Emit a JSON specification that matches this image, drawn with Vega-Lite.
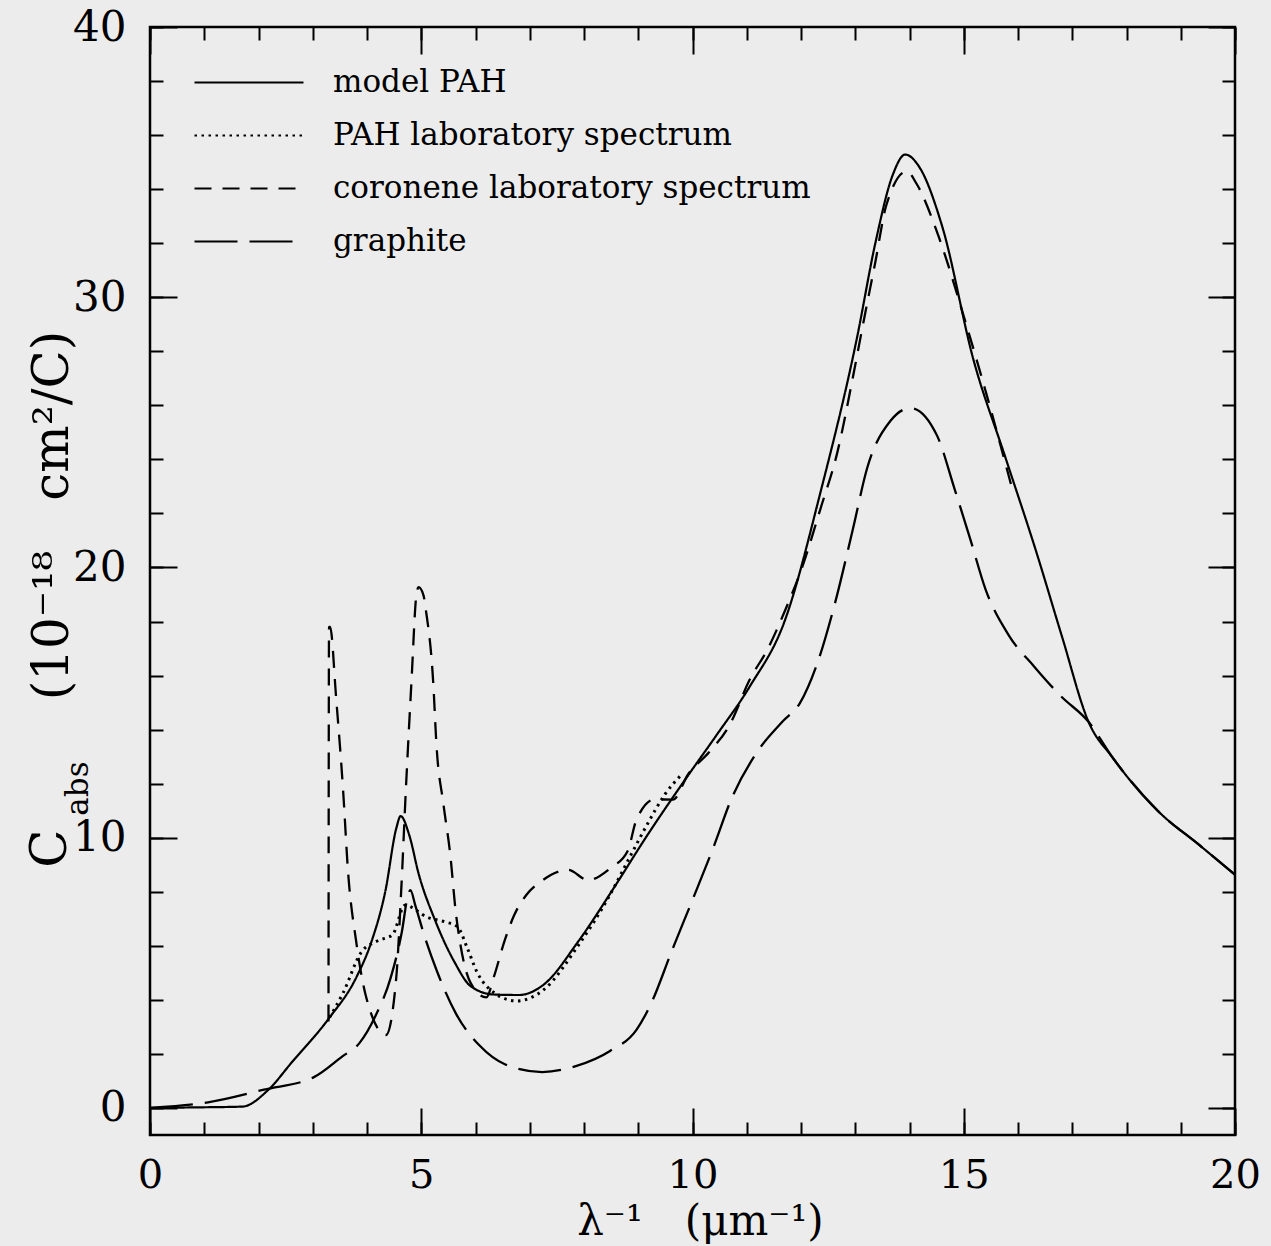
{
  "$schema": "https://vega.github.io/schema/vega-lite/v6.json",
  "width": 1085,
  "height": 1108,
  "autosize": {"type": "none"},
  "padding": {"left": 150, "top": 27, "right": 36, "bottom": 111},
  "background": "#ececec",
  "config": {
    "view": {"stroke": "black", "strokeWidth": 2.5},
    "axis": {"grid": false, "domain": false, "tickColor": "black", "tickWidth": 2, "labelColor": "black", "titleColor": "black", "labelFont": "DejaVu Serif", "titleFont": "DejaVu Serif", "titleFontWeight": "normal", "labelFlush": false, "labelOverlap": false, "labelBound": false},
    "line": {"color": "black", "strokeWidth": 2.2, "interpolate": "monotone"}
  },
  "datasets": {
    "model": [
      {"x": 0, "y": 0, "series": "model PAH"},
      {"x": 0.75, "y": 0.02, "series": "model PAH"},
      {"x": 1.7, "y": 0.05, "series": "model PAH"},
      {"x": 2.18, "y": 0.67, "series": "model PAH"},
      {"x": 2.61, "y": 1.68, "series": "model PAH"},
      {"x": 3.28, "y": 3.27, "series": "model PAH"},
      {"x": 3.81, "y": 4.86, "series": "model PAH"},
      {"x": 4.08, "y": 6.14, "series": "model PAH"},
      {"x": 4.34, "y": 8.04, "series": "model PAH"},
      {"x": 4.54, "y": 10.35, "series": "model PAH"},
      {"x": 4.62, "y": 10.8, "series": "model PAH"},
      {"x": 4.78, "y": 10.09, "series": "model PAH"},
      {"x": 4.95, "y": 8.68, "series": "model PAH"},
      {"x": 5.25, "y": 6.97, "series": "model PAH"},
      {"x": 5.61, "y": 5.41, "series": "model PAH"},
      {"x": 5.91, "y": 4.51, "series": "model PAH"},
      {"x": 6.33, "y": 4.2, "series": "model PAH"},
      {"x": 6.8, "y": 4.18, "series": "model PAH"},
      {"x": 7.26, "y": 4.57, "series": "model PAH"},
      {"x": 7.89, "y": 6.15, "series": "model PAH"},
      {"x": 8.53, "y": 8.08, "series": "model PAH"},
      {"x": 9.16, "y": 10.07, "series": "model PAH"},
      {"x": 9.92, "y": 12.31, "series": "model PAH"},
      {"x": 10.43, "y": 13.76, "series": "model PAH"},
      {"x": 11.06, "y": 15.61, "series": "model PAH"},
      {"x": 11.69, "y": 17.97, "series": "model PAH"},
      {"x": 12.37, "y": 22.87, "series": "model PAH"},
      {"x": 13.03, "y": 28.48, "series": "model PAH"},
      {"x": 13.37, "y": 32.0, "series": "model PAH"},
      {"x": 13.69, "y": 34.52, "series": "model PAH"},
      {"x": 13.92, "y": 35.28, "series": "model PAH"},
      {"x": 14.19, "y": 34.79, "series": "model PAH"},
      {"x": 14.6, "y": 32.64, "series": "model PAH"},
      {"x": 15.18, "y": 27.68, "series": "model PAH"},
      {"x": 15.76, "y": 24.12, "series": "model PAH"},
      {"x": 16.34, "y": 20.56, "series": "model PAH"},
      {"x": 16.81, "y": 17.45, "series": "model PAH"},
      {"x": 17.3, "y": 14.29, "series": "model PAH"},
      {"x": 17.75, "y": 12.95, "series": "model PAH"},
      {"x": 18.6, "y": 10.95, "series": "model PAH"},
      {"x": 19.33, "y": 9.75, "series": "model PAH"},
      {"x": 20, "y": 8.63, "series": "model PAH"}
    ],
    "lab": [
      {"x": 3.31, "y": 3.35, "series": "PAH laboratory spectrum"},
      {"x": 3.56, "y": 4.26, "series": "PAH laboratory spectrum"},
      {"x": 3.89, "y": 5.75, "series": "PAH laboratory spectrum"},
      {"x": 4.19, "y": 6.18, "series": "PAH laboratory spectrum"},
      {"x": 4.47, "y": 6.41, "series": "PAH laboratory spectrum"},
      {"x": 4.7, "y": 7.5, "series": "PAH laboratory spectrum"},
      {"x": 5.12, "y": 7.05, "series": "PAH laboratory spectrum"},
      {"x": 5.43, "y": 6.89, "series": "PAH laboratory spectrum"},
      {"x": 5.67, "y": 6.7, "series": "PAH laboratory spectrum"},
      {"x": 5.85, "y": 5.91, "series": "PAH laboratory spectrum"},
      {"x": 6.03, "y": 5.02, "series": "PAH laboratory spectrum"},
      {"x": 6.34, "y": 4.27, "series": "PAH laboratory spectrum"},
      {"x": 6.76, "y": 3.96, "series": "PAH laboratory spectrum"},
      {"x": 7.26, "y": 4.38, "series": "PAH laboratory spectrum"},
      {"x": 7.88, "y": 5.97, "series": "PAH laboratory spectrum"},
      {"x": 8.46, "y": 7.82, "series": "PAH laboratory spectrum"},
      {"x": 8.84, "y": 9.27, "series": "PAH laboratory spectrum"},
      {"x": 9.17, "y": 10.51, "series": "PAH laboratory spectrum"},
      {"x": 9.49, "y": 11.6, "series": "PAH laboratory spectrum"},
      {"x": 9.79, "y": 12.32, "series": "PAH laboratory spectrum"}
    ],
    "coronene": [
      {"x": 3.29, "y": 3.2, "series": "coronene laboratory spectrum"},
      {"x": 3.3, "y": 17.8, "series": "coronene laboratory spectrum"},
      {"x": 3.32, "y": 17.8, "series": "coronene laboratory spectrum"},
      {"x": 3.43, "y": 15.2, "series": "coronene laboratory spectrum"},
      {"x": 3.56, "y": 11.74, "series": "coronene laboratory spectrum"},
      {"x": 3.65, "y": 8.76, "series": "coronene laboratory spectrum"},
      {"x": 3.8, "y": 6.17, "series": "coronene laboratory spectrum"},
      {"x": 3.97, "y": 4.22, "series": "coronene laboratory spectrum"},
      {"x": 4.35, "y": 2.7, "series": "coronene laboratory spectrum"},
      {"x": 4.54, "y": 4.84, "series": "coronene laboratory spectrum"},
      {"x": 4.63, "y": 8.03, "series": "coronene laboratory spectrum"},
      {"x": 4.72, "y": 11.93, "series": "coronene laboratory spectrum"},
      {"x": 4.82, "y": 15.79, "series": "coronene laboratory spectrum"},
      {"x": 4.91, "y": 18.98, "series": "coronene laboratory spectrum"},
      {"x": 4.95, "y": 19.27, "series": "coronene laboratory spectrum"},
      {"x": 5.04, "y": 18.98, "series": "coronene laboratory spectrum"},
      {"x": 5.09, "y": 18.36, "series": "coronene laboratory spectrum"},
      {"x": 5.22, "y": 15.77, "series": "coronene laboratory spectrum"},
      {"x": 5.28, "y": 13.45, "series": "coronene laboratory spectrum"},
      {"x": 5.41, "y": 11.23, "series": "coronene laboratory spectrum"},
      {"x": 5.54, "y": 9.28, "series": "coronene laboratory spectrum"},
      {"x": 5.63, "y": 7.36, "series": "coronene laboratory spectrum"},
      {"x": 5.72, "y": 6.07, "series": "coronene laboratory spectrum"},
      {"x": 5.91, "y": 4.63, "series": "coronene laboratory spectrum"},
      {"x": 6.2, "y": 4.09, "series": "coronene laboratory spectrum"},
      {"x": 6.34, "y": 4.86, "series": "coronene laboratory spectrum"},
      {"x": 6.54, "y": 6.21, "series": "coronene laboratory spectrum"},
      {"x": 6.71, "y": 7.12, "series": "coronene laboratory spectrum"},
      {"x": 6.94, "y": 7.89, "series": "coronene laboratory spectrum"},
      {"x": 7.24, "y": 8.43, "series": "coronene laboratory spectrum"},
      {"x": 7.71, "y": 8.81, "series": "coronene laboratory spectrum"},
      {"x": 8.07, "y": 8.43, "series": "coronene laboratory spectrum"},
      {"x": 8.49, "y": 8.88, "series": "coronene laboratory spectrum"},
      {"x": 8.81, "y": 9.53, "series": "coronene laboratory spectrum"},
      {"x": 8.96, "y": 10.63, "series": "coronene laboratory spectrum"},
      {"x": 9.3, "y": 11.42, "series": "coronene laboratory spectrum"},
      {"x": 9.64, "y": 11.41, "series": "coronene laboratory spectrum"},
      {"x": 9.92, "y": 12.35, "series": "coronene laboratory spectrum"},
      {"x": 10.3, "y": 13.15, "series": "coronene laboratory spectrum"},
      {"x": 10.68, "y": 14.16, "series": "coronene laboratory spectrum"},
      {"x": 11.06, "y": 15.87, "series": "coronene laboratory spectrum"},
      {"x": 11.39, "y": 17.0, "series": "coronene laboratory spectrum"},
      {"x": 11.7, "y": 18.38, "series": "coronene laboratory spectrum"},
      {"x": 12.03, "y": 20.06, "series": "coronene laboratory spectrum"},
      {"x": 12.36, "y": 22.18, "series": "coronene laboratory spectrum"},
      {"x": 12.67, "y": 24.26, "series": "coronene laboratory spectrum"},
      {"x": 12.96, "y": 27.08, "series": "coronene laboratory spectrum"},
      {"x": 13.16, "y": 29.17, "series": "coronene laboratory spectrum"},
      {"x": 13.37, "y": 31.3, "series": "coronene laboratory spectrum"},
      {"x": 13.57, "y": 33.39, "series": "coronene laboratory spectrum"},
      {"x": 13.95, "y": 34.66, "series": "coronene laboratory spectrum"},
      {"x": 14.13, "y": 34.2, "series": "coronene laboratory spectrum"},
      {"x": 14.54, "y": 32.23, "series": "coronene laboratory spectrum"},
      {"x": 15.01, "y": 29.23, "series": "coronene laboratory spectrum"},
      {"x": 15.46, "y": 26.12, "series": "coronene laboratory spectrum"},
      {"x": 15.88, "y": 23.01, "series": "coronene laboratory spectrum"}
    ],
    "graphite": [
      {"x": 0, "y": 0, "series": "graphite"},
      {"x": 1.07, "y": 0.21, "series": "graphite"},
      {"x": 2.1, "y": 0.68, "series": "graphite"},
      {"x": 3.03, "y": 1.15, "series": "graphite"},
      {"x": 3.54, "y": 1.9, "series": "graphite"},
      {"x": 3.86, "y": 2.4, "series": "graphite"},
      {"x": 4.16, "y": 3.42, "series": "graphite"},
      {"x": 4.44, "y": 4.84, "series": "graphite"},
      {"x": 4.64, "y": 6.49, "series": "graphite"},
      {"x": 4.76, "y": 7.91, "series": "graphite"},
      {"x": 4.8, "y": 8.06, "series": "graphite"},
      {"x": 4.89, "y": 7.5, "series": "graphite"},
      {"x": 5.06, "y": 6.36, "series": "graphite"},
      {"x": 5.29, "y": 5.06, "series": "graphite"},
      {"x": 5.64, "y": 3.49, "series": "graphite"},
      {"x": 6.08, "y": 2.3, "series": "graphite"},
      {"x": 6.55, "y": 1.61, "series": "graphite"},
      {"x": 7.23, "y": 1.33, "series": "graphite"},
      {"x": 7.85, "y": 1.55, "series": "graphite"},
      {"x": 8.48, "y": 2.11, "series": "graphite"},
      {"x": 8.97, "y": 2.9, "series": "graphite"},
      {"x": 9.24, "y": 3.88, "series": "graphite"},
      {"x": 9.62, "y": 5.82, "series": "graphite"},
      {"x": 10.01, "y": 7.75, "series": "graphite"},
      {"x": 10.4, "y": 9.72, "series": "graphite"},
      {"x": 10.71, "y": 11.4, "series": "graphite"},
      {"x": 11.17, "y": 13.11, "series": "graphite"},
      {"x": 11.66, "y": 14.3, "series": "graphite"},
      {"x": 11.98, "y": 14.98, "series": "graphite"},
      {"x": 12.31, "y": 16.51, "series": "graphite"},
      {"x": 12.62, "y": 18.63, "series": "graphite"},
      {"x": 12.96, "y": 21.45, "series": "graphite"},
      {"x": 13.22, "y": 23.68, "series": "graphite"},
      {"x": 13.65, "y": 25.43, "series": "graphite"},
      {"x": 14.02, "y": 25.9, "series": "graphite"},
      {"x": 14.51, "y": 24.87, "series": "graphite"},
      {"x": 14.83, "y": 22.91, "series": "graphite"},
      {"x": 15.12, "y": 21.05, "series": "graphite"},
      {"x": 15.4, "y": 19.2, "series": "graphite"},
      {"x": 15.83, "y": 17.49, "series": "graphite"},
      {"x": 16.3, "y": 16.33, "series": "graphite"},
      {"x": 16.79, "y": 15.24, "series": "graphite"},
      {"x": 17.3, "y": 14.29, "series": "graphite"},
      {"x": 17.75, "y": 12.95, "series": "graphite"},
      {"x": 18.6, "y": 10.95, "series": "graphite"},
      {"x": 19.33, "y": 9.75, "series": "graphite"},
      {"x": 20, "y": 8.63, "series": "graphite"}
    ]
  },
  "layer": [
    {
      "data": {"name": "model"},
      "mark": {"type": "line", "strokeWidth": 2.2},
      "encoding": {
        "x": {"field": "x", "type": "quantitative", "scale": {"domain": [0, 20], "nice": false, "zero": false},
          "axis": {"orient": "bottom", "values": [0, 5, 10, 15, 20], "ticks": false, "labelFontSize": 40, "labelPadding": 20, "title": "λ⁻¹\u2003(μm⁻¹)", "titleFontSize": 42, "titleX": 550, "titleY": 86, "titleBaseline": "middle", "titleAlign": "center"}},
        "y": {"field": "y", "type": "quantitative", "scale": {"domain": [-1, 40], "nice": false, "zero": false},
          "axis": {"orient": "left", "values": [0, 10, 20, 30, 40], "ticks": false, "labelFontSize": 42, "labelPadding": 24, "title": "(10⁻¹⁸\u2003cm²/C)", "titleFontSize": 50, "titleX": -98, "titleY": 488, "titleAngle": -90, "titleBaseline": "middle", "titleAlign": "center"}},
        "strokeDash": {"field": "series", "type": "nominal", "title": null,
          "scale": {"domain": ["model PAH", "PAH laboratory spectrum", "coronene laboratory spectrum", "graphite"], "range": [[1, 0], [2.5, 4.5], [17, 11], [43, 12]]},
          "legend": {"orient": "none", "legendX": 43, "legendY": 29, "symbolType": "stroke", "symbolSize": 11881, "symbolStrokeWidth": 2.4, "symbolStrokeColor": "black", "labelFont": "DejaVu Serif", "labelFontSize": 31, "labelColor": "black", "labelOffset": 28, "clipHeight": 53, "rowPadding": 0, "padding": 0, "labelLimit": 700}}
      }
    },
    {
      "data": {"name": "lab"},
      "mark": {"type": "line", "strokeWidth": 3},
      "encoding": {
        "x": {"field": "x", "type": "quantitative", "axis": {"orient": "bottom", "values": [0, 5, 10, 15, 20], "labels": false, "tickSize": -27, "title": null}},
        "y": {"field": "y", "type": "quantitative", "axis": {"orient": "left", "values": [0, 10, 20, 30, 40], "labels": false, "tickSize": -27, "title": "C", "titleFontSize": 50, "titleX": -100, "titleY": 821, "titleAngle": -90, "titleBaseline": "middle", "titleAlign": "center"}},
        "strokeDash": {"field": "series", "type": "nominal", "title": null}
      }
    },
    {
      "data": {"name": "coronene"},
      "mark": {"type": "line", "strokeWidth": 2.3},
      "encoding": {
        "x": {"field": "x", "type": "quantitative", "axis": {"orient": "bottom", "values": [0, 1, 2, 3, 4, 5, 6, 7, 8, 9, 10, 11, 12, 13, 14, 15, 16, 17, 18, 19, 20], "labels": false, "tickSize": -13, "title": null}},
        "y": {"field": "y", "type": "quantitative", "axis": {"orient": "left", "values": [0, 2, 4, 6, 8, 10, 12, 14, 16, 18, 20, 22, 24, 26, 28, 30, 32, 34, 36, 38, 40], "labels": false, "tickSize": -13, "title": "abs", "titleFontSize": 31, "titleX": -72, "titleY": 761, "titleAngle": -90, "titleBaseline": "middle", "titleAlign": "center"}},
        "strokeDash": {"field": "series", "type": "nominal", "title": null}
      }
    },
    {
      "data": {"name": "graphite"},
      "mark": {"type": "line", "strokeWidth": 2.3},
      "encoding": {
        "x": {"field": "x", "type": "quantitative", "axis": {"orient": "top", "values": [0, 5, 10, 15, 20], "labels": false, "tickSize": -27, "title": null}},
        "y": {"field": "y", "type": "quantitative", "axis": {"orient": "right", "values": [0, 10, 20, 30, 40], "labels": false, "tickSize": -27, "title": null}},
        "strokeDash": {"field": "series", "type": "nominal", "title": null}
      }
    },
    {
      "data": {"name": "model"},
      "mark": {"type": "line", "strokeOpacity": 0},
      "encoding": {
        "x": {"field": "x", "type": "quantitative", "axis": {"orient": "top", "values": [0, 1, 2, 3, 4, 5, 6, 7, 8, 9, 10, 11, 12, 13, 14, 15, 16, 17, 18, 19, 20], "labels": false, "tickSize": -13, "title": null}},
        "y": {"field": "y", "type": "quantitative", "axis": {"orient": "right", "values": [0, 2, 4, 6, 8, 10, 12, 14, 16, 18, 20, 22, 24, 26, 28, 30, 32, 34, 36, 38, 40], "labels": false, "tickSize": -13, "title": null}}
      }
    }
  ],
  "resolve": {"axis": {"x": "independent", "y": "independent"}}
}
